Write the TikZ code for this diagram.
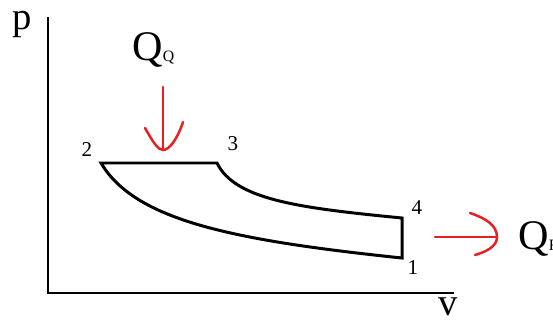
\documentclass[tikz,border=0pt]{standalone}
\usepackage{fontspec}
\setmainfont{Liberation Serif}
\usetikzlibrary{arrows.meta,positioning}
\definecolor{heatred}{RGB}{232,30,36}

\begin{document}
\begin{tikzpicture}[x=0.02cm,y=-0.02cm,
    axis/.style={line width=1.6pt},
    cycleline/.style={line width=1.7pt,line join=miter},
    heat/.style={line width=1.4pt,heatred,line cap=round},
    statelbl/.style={font=\fontsize{12}{14}\selectfont,inner sep=0pt},
    axislbl/.style={font=\fontsize{22}{26}\selectfont,inner sep=0pt},
    bigq/.style={font=\fontsize{24}{28}\selectfont,inner sep=0pt,anchor=base west}]
  \useasboundingbox (0,0) rectangle (553,325);

  % axes
  \coordinate (ptop) at (48,17);
  \coordinate (origin) at (48,293);
  \coordinate (vend) at (454,293);
  \draw[axis] (ptop) -- (origin) -- (vend);
  \node[axislbl] (plbl) at (22,25) {p};
  \node[axislbl] (vlbl) at (448,307) {v};

  % states of the cycle
  \coordinate (s1) at (402,258);
  \coordinate (s2) at (101,163);
  \coordinate (s3) at (217,163);
  \coordinate (s4) at (402,218);
  \node[statelbl] (n1) at (413,268) {1};
  \node[statelbl] (n2) at (87,150) {2};
  \node[statelbl] (n3) at (233,144) {3};
  \node[statelbl] (n4) at (417,208) {4};

  \draw[cycleline] (s2) -- (s3) .. controls (235,200) and (300,208) .. (s4)
    -- (s1) .. controls (230,240) and (135,220) .. (s2) -- cycle;

  % heat in and out
  \node[bigq] (qq) at (132,60) {Q\raisebox{-1pt}{\fontsize{9}{10}\selectfont Q}};
  \node[bigq] (qf) at (518,249) {Q\raisebox{-1pt}{\fontsize{9}{10}\selectfont F}};
  \coordinate (qinstart) at (163,87);
  \coordinate (qintip) at (163,150);
  \coordinate (qoutstart) at (435,237);
  \coordinate (qouttip) at (497,237);
  \draw[heat] (qinstart) -- (qintip);
  \draw[heat] ([shift={(-18,-22)}]qintip) .. controls ([shift={(-10,-8)}]qintip)
    and ([shift={(-5,0)}]qintip) .. (qintip) .. controls ([shift={(6,0)}]qintip)
    and ([shift={(14,-10)}]qintip) .. ([shift={(20,-28)}]qintip);
  \draw[heat] (qoutstart) -- (qouttip);
  \draw[heat] ([shift={(-27,-24)}]qouttip) .. controls ([shift={(-12,-19)}]qouttip)
    and ([shift={(0,-12)}]qouttip) .. (qouttip) .. controls ([shift={(0,10)}]qouttip)
    and ([shift={(-12,15)}]qouttip) .. ([shift={(-22,18)}]qouttip);
\end{tikzpicture}
\end{document}
